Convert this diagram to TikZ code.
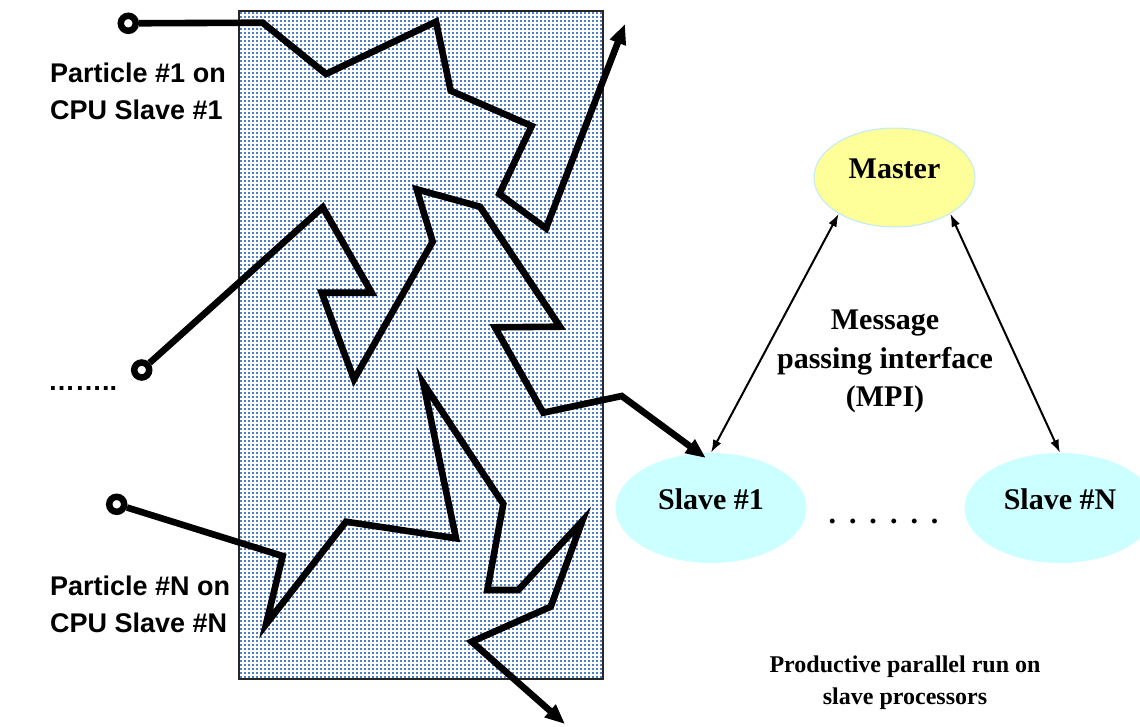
\documentclass[tikz,border=0pt]{standalone}
\usepackage{fontspec}
\setmainfont{Liberation Serif}
\newfontfamily\arialfont{Liberation Sans}
\usetikzlibrary{arrows.meta,shapes.geometric,patterns}

\pgfdeclarepatternformonly{griddots}{\pgfqpoint{-1pt}{-1pt}}{\pgfqpoint{5pt}{5pt}}{\pgfqpoint{4pt}{4pt}}{%
  \pgfpathrectangle{\pgfqpoint{0pt}{0pt}}{\pgfqpoint{1.8pt}{1.8pt}}%
  \pgfusepath{fill}}

\definecolor{dotblue}{RGB}{79,129,196}
\definecolor{masteryellow}{RGB}{255,255,153}
\definecolor{slavecyan}{RGB}{204,255,255}

\begin{document}
\begin{tikzpicture}[
  x=1pt, y=-1pt,
  walk/.style={line width=6.6pt},
  walkarrow/.style={walk, -{Triangle[length=20pt,width=16pt]}},
  startpt/.style={circle, draw, line width=6.5pt, minimum size=15pt, inner sep=0pt},
  proc/.style={ellipse, inner sep=0pt, text depth=17pt, font=\bfseries\fontsize{30}{36}\selectfont},
  mpiarrow/.style={{Latex[length=13pt,width=9pt]}-{Latex[length=13pt,width=9pt]}, line width=2pt},
  leftlabel/.style={anchor=west, align=left, inner sep=0pt, font=\arialfont\bfseries\fontsize{27}{37}\selectfont}
]
\useasboundingbox (0,0) rectangle (1140,726);
\clip (0,0) rectangle (1140,726);

% simulation domain
\fill[white] (239.3,10.7) rectangle (602.7,679.3);
\path[pattern=griddots, pattern color=dotblue] (239.3,10.7) rectangle (602.7,679.3);
\draw[line width=2pt, black!85] (239.3,10.7) rectangle (602.7,679.3);

% processors
\node[proc, fill=masteryellow, draw=cyan!25, line width=1pt, minimum width=161pt, minimum height=99pt] (master) at (894.5,177.5) {Master};
\node[proc, fill=slavecyan, minimum width=191pt, minimum height=110pt] (slave1) at (711,508) {Slave \#1};
\node[proc, fill=slavecyan, minimum width=191pt, minimum height=110pt] (slaveN) at (1060,508) {Slave \#N};

\draw[mpiarrow] (master.213) -- (slave1.north);
\draw[mpiarrow] (master.327) -- (slaveN.north);

\node[font=\bfseries\fontsize{30}{38.5}\selectfont, align=center] (mpilabel) at (885,361.7) {Message\\passing interface\\(MPI)};
\node[font=\bfseries\fontsize{30}{30}\selectfont] (dotsrow) at (883.5,521.7) {.\hskip13pt.\hskip13pt.\hskip13pt.\hskip13pt.\hskip13pt.};
\node[font=\bfseries\fontsize{24}{32}\selectfont, align=center] (runlabel) at (905,683) {Productive parallel run on\\slave processors};

% particles
\node[startpt] (p1) at (128.3,23.3) {};
\node[startpt] (p2) at (141.7,370) {};
\node[startpt] (pN) at (116.7,504.3) {};
\node[leftlabel] (label1) at (50,91.5) {Particle \#1 on\\CPU Slave \#1};
\node[leftlabel, anchor=base west] (labeldots) at (48,390) {……..};
\node[leftlabel] (labelN) at (50,604.8) {Particle \#N on\\CPU Slave \#N};

\draw[walkarrow] (p1) -- (262.7,22.7) -- (326,74) -- (436,21.7) -- (450.7,90.7) -- (531.7,126) -- (499.3,194) -- (546,228.3) -- (625,24);
\draw[walkarrow, shorten >=-8pt] (p2) -- (322.7,207.3) -- (371.7,292.7) -- (321.7,292.7) -- (354,379.3) -- (432.7,241.7) -- (416.7,189.3) -- (480,206.7) -- (560,326.7) -- (495,327.3) -- (543.3,412.7) -- (621.7,396) -- (slave1.102);
\draw[walkarrow] (pN) -- (282.7,556) -- (266,624.3) -- (346,521.7) -- (456,538.3) -- (423.3,383.3) -- (503.3,504) -- (487.3,590) -- (518.3,590) -- (582.3,521) -- (550.7,606.7) -- (471.7,641.7) -- (565,724);
\end{tikzpicture}
\end{document}
